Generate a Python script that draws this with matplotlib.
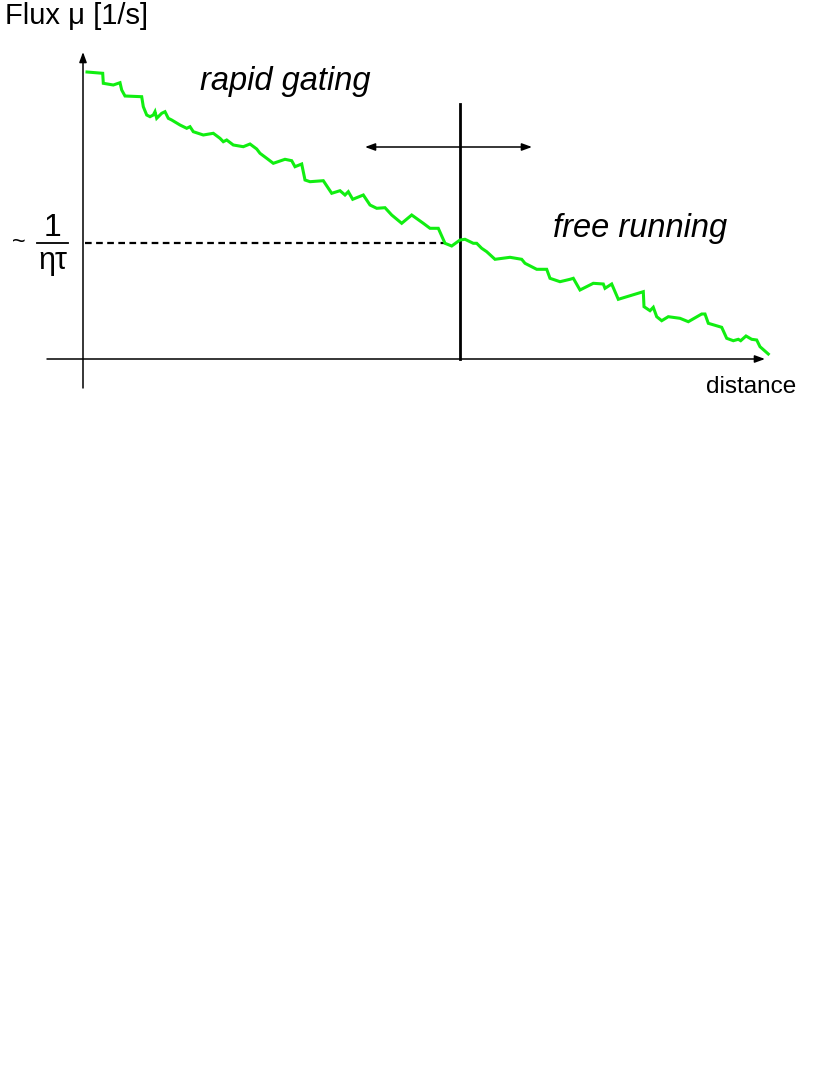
import matplotlib
matplotlib.use('Agg')
import matplotlib.pyplot as plt

# flux trace (distance, flux); origin where the axes cross
trace_px = [
    (87, 72), (102.7, 73.3), (103.3, 83.3), (113.3, 85), (120, 82.7), (121.7, 90), (125, 96),
    (141.7, 96.7), (143.3, 106.7), (146.7, 115), (150, 116.7), (153.3, 115), (155, 111.7),
    (156.7, 118.3), (161.7, 113.3), (165, 111.7), (168.3, 118.3), (171.7, 120), (180, 125),
    (186.7, 128.3), (190, 126.7), (193.3, 131.7), (203.3, 135), (213.3, 133.3), (220, 138.3),
    (223.3, 141.7), (226.7, 140), (233.3, 145), (243.3, 146.7), (250, 144), (256.7, 149),
    (260, 153.3), (266.7, 158.3), (273.3, 163.3), (285, 159.3), (291.7, 160.7), (295, 166.7),
    (301.7, 164), (305, 180), (310, 181.7), (323.3, 180.7), (331.7, 193.3), (340, 190.7),
    (345, 195), (348.3, 191.7), (352.7, 199.3), (363.3, 195), (370, 205), (376.7, 208.3),
    (385, 207.7), (391.7, 215), (401.7, 223.3), (411.7, 215), (423.3, 223.3), (430, 228.3),
    (438.3, 228.3), (445, 243.3), (451.7, 246), (460, 240), (465, 239.3), (473.3, 243.3),
    (476.7, 243.3), (481.7, 248.3), (486.7, 251.7), (495, 259.3), (510, 257.3), (521.7, 259.3),
    (525, 263.3), (536.7, 269.3), (546.7, 269.3), (550, 278.3), (560, 281.7), (570, 279.3),
    (573.3, 278.3), (580, 290), (593.3, 283.3), (603.3, 284), (605, 288.3), (611.7, 284),
    (618.3, 299.3), (643.3, 291.7), (644, 306.7), (650, 310.7), (653.3, 307.3), (656.7, 316.7),
    (661.7, 320.7), (668.3, 316.7), (680, 318.3), (688.3, 321.7), (701.7, 314), (705, 314),
    (708.3, 323.3), (721.7, 327.3), (726.7, 338.3), (733.3, 340.7), (738.3, 339.3),
    (740.7, 340.7), (746, 336), (751.7, 339.3), (756.7, 340), (760, 346.7), (768.3, 354),
]
ox, oy = 83, 359
distance = [px - ox for px, py in trace_px]
flux = [oy - py for px, py in trace_px]

threshold_flux = 116      # level of 1/(eta tau)
threshold_dist = 377      # crossover distance

fig = plt.figure(figsize=(8.3, 10.75), dpi=100)
ax = fig.add_axes([0, 0, 1, 1])
ax.set_xlim(-ox, 830 - ox)
ax.set_ylim(oy - 1075, oy)
ax.axis('off')

arrow = dict(arrowstyle='-|>,head_length=0.6,head_width=0.22', color='black', lw=1.1,
             shrinkA=0, shrinkB=0)
# axes
ax.annotate('', xy=(0, 307), xytext=(0, -29), arrowprops=arrow)
ax.annotate('', xy=(682, 0), xytext=(-36, 0), arrowprops=arrow)

# crossover line and double arrow
ax.plot([threshold_dist, threshold_dist], [0, 255], color='black', lw=2)
darrow = dict(arrowstyle='<|-|>,head_length=0.6,head_width=0.22', color='black', lw=1.1,
              shrinkA=0, shrinkB=0)
ax.annotate('', xy=(282, 212), xytext=(449, 212), arrowprops=darrow)

# threshold dashed line
ax.plot([2, 362], [threshold_flux, threshold_flux], color='black', lw=1.6,
        linestyle=(0, (3, 2)))

ax.plot(distance, flux, color='#11ee11', lw=2.2, solid_joinstyle='miter')

font = 'Liberation Sans'
ax.text(-78, 343, 'Flux μ [1/s]', fontsize=21, family=font, va='center', ha='left')
ax.text(202, 277, 'rapid gating', fontsize=23.5, family=font, style='italic',
        ha='center', va='center')
ax.text(557, 130, 'free running', fontsize=23.5, family=font, style='italic',
        ha='center', va='center')
ax.text(668, -28, 'distance', fontsize=17.5, family=font, ha='center', va='center')

# ~ 1/(eta tau)
ax.text(-64, 116, '~', fontsize=17, family=font, ha='center', va='center')
ax.text(-31, 131, '1', fontsize=23, family=font, ha='center', va='center')
ax.plot([-46, -15], [116, 116], color='black', lw=1.3)
ax.text(-30, 98, 'ητ', fontsize=22, family=font, ha='center', va='center')

fig.savefig('out.png', dpi=100)
